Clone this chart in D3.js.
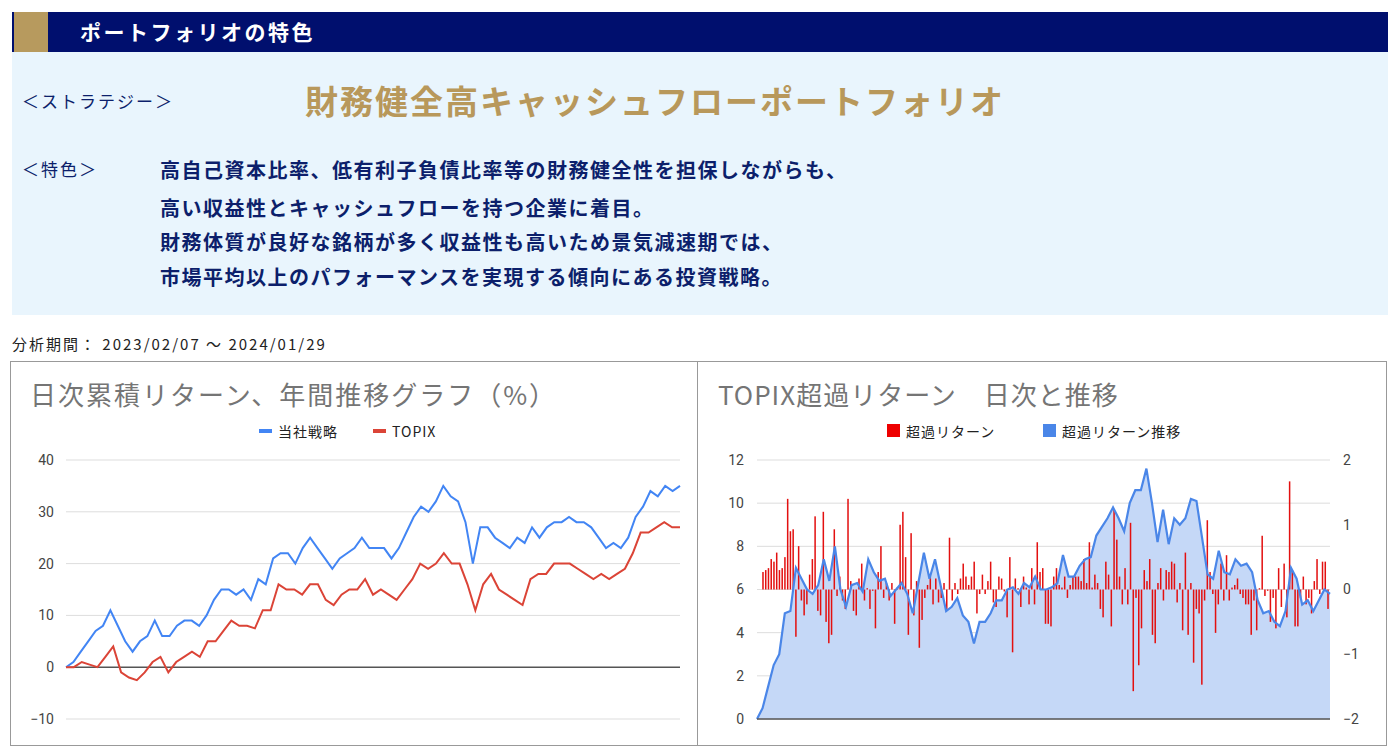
<!DOCTYPE html>
<html><head><meta charset="utf-8">
<script src="https://cdn.jsdelivr.net/npm/d3@7"></script>
<style>
body{margin:0;background:#fff;font-family:"Noto Sans CJK JP","Noto Sans",sans-serif;}
</style></head>
<body><svg id="c" width="1395" height="756"></svg>
<script>
// cumulative return (%), evenly spaced over the period
const strategy = [0,1,3,5,7,8,11,8,5,3,5,6,9,6,6,8,9,9,8,10,13,15,15,14,15,13,17,16,21,22,22,20,23,25,23,21,19,21,22,23,25,23,23,23,21,23,26,29,31,30,32,35,33,32,28,20,27,27,25,24,23,25,24,27,25,27,28,28,29,28,28,27,25,23,24,23,25,29,31,34,33,35,34,35];
const topix = [0,0,1,0.5,0,2,4,-1,-2,-2.5,-1,1,2,-1,1,2,3,2,5,5,7,9,8,8,7.5,11,11,16,15,15,14,16,16,13,12,14,15,15,17,14,15,14,13,15,17,20,19,20,22,20,20,16,11,16,18,15,14,13,12,17,18,18,20,20,20,19,18,17,18,17,18,19,22,26,26,27,28,27,27];
const leftTicks = [-10,0,10,20,30,40];

// excess return: running total (left axis 0..12) and daily (right axis -2..2)
const excessTrend = [0,0.5,1.5,2.5,3,4.9,5,7,6.5,6,5.8,6.2,7.4,6.4,8,6,5.2,6.2,6.3,5.9,7.4,6.8,6.4,6.5,5.7,6,6.3,5.8,4.9,6.3,7.7,6.5,7.4,6.2,5,5.2,5.6,4.8,4.5,3.5,4.5,4.5,4.9,5.5,5.5,6,6.1,5.8,6.3,6.1,6.6,6,6,6.1,6.3,7.6,6.6,6.6,7.1,7.4,7.5,8.5,8.9,9.3,9.8,9.3,8.7,10,10.6,10.6,11.6,10,8.2,9.7,8.1,9.3,9,9.3,10.2,10.1,8.4,6.7,6.5,7.8,6.8,6.7,7.4,7.1,7.2,6.8,5.5,4.9,5,4.5,4.3,5,7,6.5,5.3,5.5,5,5.5,6,5.8];
const excessDaily = [.27,.3,.33,.47,.43,.57,.3,.33,.5,1.4,.9,.93,-.73,.67,-.17,-.4,-.23,.23,.47,1.13,-.33,-.4,1.2,-.5,-.83,-.7,.93,-.1,.2,-.17,-.3,1.4,.13,-.33,-.4,.17,.4,-.17,.02,-.3,-.02,-.6,.27,.67,-.13,.1,-.17,.1,-.53,.03,1,1.2,.5,-.7,.87,-.4,.13,-.9,-.47,-.13,.07,.2,-.23,.17,-.2,-.13,.1,-.33,.8,-.17,.1,-.07,.17,.4,.2,.07,.2,.43,-.37,-.07,.23,-.07,.13,.43,-.2,-.27,.2,.17,-.03,-.43,.5,-.97,.17,.02,-.27,.2,.03,-.23,.33,-.23,.73,.27,.33,-.53,-.53,-.57,.2,.33,.07,.03,.2,-.13,.07,.2,.2,.2,.13,.47,.1,.73,.03,.23,.1,-.3,-.43,.43,.23,-.57,1.23,.77,.2,-.23,.33,-.23,1.03,-1.57,-.13,-1.17,-.6,.3,.13,.47,-.7,-.83,.1,.33,-.17,.3,.27,.43,.4,-.2,.1,-.63,.57,-.7,.1,-1.13,-.3,-.37,-1.47,-.17,1.07,.27,-.07,-.67,-.23,.4,-.17,.53,-.17,.03,.07,.17,-.07,-.13,-.23,-.23,-.7,-.17,-.63,.02,.83,-.1,-.02,-.5,-.13,-.6,.33,-.27,.4,-.43,1.67,.3,-.57,-.57,-.13,.2,-.23,-.13,-.37,.13,.47,-.07,.43,.43,-.3];
const trendTicks = [0,2,4,6,8,10,12];
const dailyTicks = [-2,-1,0,1,2];

const features = ["高自己資本比率、低有利子負債比率等の財務健全性を担保しながらも、","高い収益性とキャッシュフローを持つ企業に着目。","財務体質が良好な銘柄が多く収益性も高いため景気減速期では、","市場平均以上のパフォーマンスを実現する傾向にある投資戦略。"];

const svg = d3.select("#c");
const navy = "#0c1f6b";

// header
svg.append("rect").attr("x",12).attr("y",52).attr("width",1376).attr("height",263).attr("fill","#e9f5fd");
svg.append("rect").attr("x",12).attr("y",12).attr("width",1376).attr("height",40).attr("fill","#000f6e");
svg.append("rect").attr("x",14).attr("y",12).attr("width",34).attr("height",40).attr("fill","#b79a5e");
svg.append("text").attr("x",80).attr("y",40).attr("fill","#fff").attr("font-size",21).attr("letter-spacing",2.5).attr("font-weight","bold").text("ポートフォリオの特色");
svg.append("text").attr("x",22).attr("y",108).attr("fill",navy).attr("font-size",17).attr("letter-spacing",2).text("＜ストラテジー＞");
svg.append("text").attr("x",305).attr("y",114).attr("fill","#b8985b").attr("font-size",33).attr("letter-spacing",2).attr("font-weight","bold").text("財務健全高キャッシュフローポートフォリオ");
svg.append("text").attr("x",22).attr("y",176).attr("fill",navy).attr("font-size",17).attr("letter-spacing",2).text("＜特色＞");
svg.selectAll(".feat").data(features).enter().append("text")
  .attr("x",160).attr("y",(d,i)=>[178,216,250,285][i]).attr("fill",navy)
  .attr("font-size",20).attr("letter-spacing",1.5).attr("font-weight","bold").text(d=>d);
svg.append("text").attr("x",12).attr("y",350).attr("fill","#222").attr("font-size",15).attr("letter-spacing",2).text("分析期間： 2023/02/07 ～ 2024/01/29");

// panels
svg.append("rect").attr("x",10.5).attr("y",361.5).attr("width",1376).attr("height",384).attr("fill","none").attr("stroke","#999");
svg.append("line").attr("x1",697.5).attr("x2",697.5).attr("y1",361).attr("y2",746).attr("stroke","#999");

function legend(x, y, items){
  let cx = x;
  items.forEach(it=>{
    svg.append("rect").attr("x",cx).attr("width",13).attr("height",it.sq?13:4).attr("y",it.sq?y-8:y-3).attr("fill",it.c);
    svg.append("text").attr("x",cx+19).attr("y",y+5).attr("font-size",14).attr("letter-spacing",1).attr("fill","#222").text(it.t);
    cx += it.w;
  });
}
const fmt = d3.format("d");

// left chart
svg.append("text").attr("x",30).attr("y",405).attr("fill","#757575").attr("font-size",26).attr("letter-spacing",2).text("日次累積リターン、年間推移グラフ（%）");
legend(259,432,[{c:"#4285f4",t:"当社戦略",w:114},{c:"#db4437",t:"TOPIX",w:60}]);
const yL = d3.scaleLinear().domain([-10,40]).range([719,460]);
const g1 = svg.append("g");
g1.selectAll(".gl").data(leftTicks).enter().append("line")
  .attr("x1",66).attr("x2",680).attr("y1",d=>yL(d)).attr("y2",d=>yL(d))
  .attr("stroke",d=>d===0?"#555":"#ddd").attr("stroke-width",d=>d===0?1.5:1);
svg.append("g").attr("transform","translate(57,0)")
  .call(d3.axisLeft(yL).tickValues(leftTicks).tickSize(0).tickFormat(fmt))
  .call(a=>a.select(".domain").remove())
  .selectAll("text").attr("font-size",14).attr("fill","#444").attr("font-family","Roboto,Arial");
[[strategy,"#4285f4"],[topix,"#db4437"]].forEach(([s,c])=>{
  const x = d3.scaleLinear().domain([0,s.length-1]).range([66,680]);
  g1.append("path").datum(s).attr("fill","none").attr("stroke",c).attr("stroke-width",2)
    .attr("d",d3.line().x((d,i)=>x(i)).y(d=>yL(d)));
});

// right chart
svg.append("text").attr("x",718).attr("y",405).attr("fill","#757575").attr("font-size",26).attr("letter-spacing",1).text("TOPIX超過リターン　日次と推移");
legend(887,432,[{c:"#e00",t:"超過リターン",w:156,sq:1},{c:"#4a86e8",t:"超過リターン推移",w:160,sq:1}]);
const yT = d3.scaleLinear().domain([0,12]).range([719,460]);
const yD = d3.scaleLinear().domain([-2,2]).range([719,460]);
const x0 = 757, x1 = 1330;
const g2 = svg.append("g");
g2.selectAll(".gl").data(trendTicks).enter().append("line")
  .attr("x1",x0).attr("x2",x1).attr("y1",d=>yT(d)).attr("y2",d=>yT(d)).attr("stroke","#ddd");
const xt = d3.scaleLinear().domain([0,excessTrend.length-1]).range([x0,x1]);
g2.append("path").datum(excessTrend).attr("fill","#c5d8f7")
  .attr("d",d3.area().x((d,i)=>xt(i)).y0(yT(0)).y1(d=>yT(d)));
const xb = d3.scaleBand().domain(d3.range(excessDaily.length)).range([x0+4,x1]).padding(0.45);
g2.selectAll(".bar").data(excessDaily).enter().append("rect")
  .attr("x",(d,i)=>xb(i)).attr("width",xb.bandwidth())
  .attr("y",d=>Math.min(yD(d),yD(0))).attr("height",d=>Math.abs(yD(d)-yD(0)))
  .attr("fill","#e31010");
g2.append("path").datum(excessTrend).attr("fill","none").attr("stroke","#4a86e8").attr("stroke-width",2.2)
  .attr("d",d3.line().x((d,i)=>xt(i)).y(d=>yT(d)));
g2.append("line").attr("x1",x0).attr("x2",x1).attr("y1",yT(0)).attr("y2",yT(0)).attr("stroke","#555").attr("stroke-width",1.5);
svg.append("g").attr("transform","translate(747,0)")
  .call(d3.axisLeft(yT).tickValues(trendTicks).tickSize(0).tickFormat(fmt))
  .call(a=>a.select(".domain").remove())
  .selectAll("text").attr("font-size",14).attr("fill","#444").attr("font-family","Roboto,Arial");
svg.append("g").attr("transform","translate(1340,0)")
  .call(d3.axisRight(yD).tickValues(dailyTicks).tickSize(0).tickFormat(fmt))
  .call(a=>a.select(".domain").remove())
  .selectAll("text").attr("font-size",14).attr("fill","#444").attr("font-family","Roboto,Arial");
</script></body></html>
